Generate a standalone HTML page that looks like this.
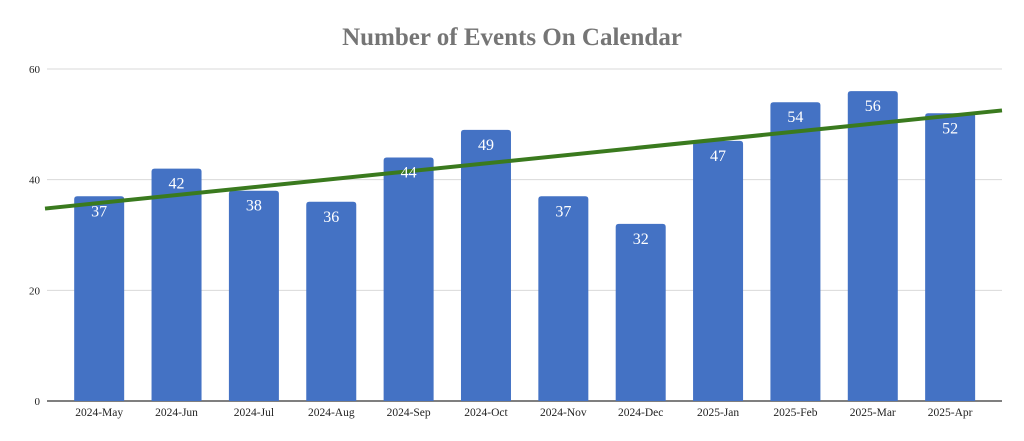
<!DOCTYPE html>
<html><head><meta charset="utf-8"><style>
body{margin:0;background:#fff}
svg{display:block}
</style></head><body>
<svg id="chart" width="1024" height="441" xmlns="http://www.w3.org/2000/svg">
<text x="512" y="45" text-anchor="middle" font-family="Liberation Serif, serif" font-weight="bold" font-size="25" fill="#757575">Number of Events On Calendar</text>
<g id="grid"></g><g id="bars"></g><g id="trend"></g><g id="labels"></g>
</svg>
<script>
const categories=["2024-May","2024-Jun","2024-Jul","2024-Aug","2024-Sep","2024-Oct","2024-Nov","2024-Dec","2025-Jan","2025-Feb","2025-Mar","2025-Apr"];
const values=[37,42,38,36,44,49,37,32,47,54,56,52];
const yTicks=[0,20,40,60];
const NS="http://www.w3.org/2000/svg";
const y0=401,yTop=69,yMax=60,left=60.5,band=77.36,bw=50,gridL=47,gridR=1002;
const Y=v=>y0-(v/yMax)*(y0-yTop);
const X=i=>left+band*(i+0.5);
function mk(t,a,p){const e=document.createElementNS(NS,t);for(const k in a)e.setAttribute(k,a[k]);document.getElementById(p).appendChild(e);return e;}
yTicks.forEach(t=>{
  if(t>0){const l=mk('line',{x1:gridL,x2:gridR,y1:Y(t),y2:Y(t),stroke:'#d9d9d9','stroke-width':1},'grid');
  
  }
  const tx=mk('text',{x:40,y:Y(t)+4,'text-anchor':'end','font-family':'Liberation Serif, serif','font-size':11,fill:'#222'},'grid');
  tx.textContent=t;
  
  
});
values.forEach((v,i)=>{
  const x=X(i)-bw/2,y=Y(v),h=y0-y,r=3;
  const p=mk('path',{d:`M${x},${y0}V${y+r}Q${x},${y} ${x+r},${y}H${x+bw-r}Q${x+bw},${y} ${x+bw},${y+r}V${y0}Z`,fill:'#4472c4'},'bars');
  
  
  const t=mk('text',{x:X(i),y:y+20,'text-anchor':'middle','font-family':'Liberation Serif, serif','font-size':16,fill:'#fff'},'labels');
  t.textContent=v;
  
  
  const c=mk('text',{x:X(i),y:416,'text-anchor':'middle','font-family':'Liberation Serif, serif','font-size':11.5,fill:'#222'},'labels');
  c.textContent=categories[i];
  
  
});
const ax=mk('line',{x1:gridL,x2:gridR,y1:y0,y2:y0,stroke:'#333','stroke-width':1.2},'grid');


// linear regression trendline
const n=values.length,mx=(n-1)/2,my=values.reduce((a,b)=>a+b,0)/n;
let sxy=0,sxx=0;values.forEach((v,i)=>{sxy+=(i-mx)*(v-my);sxx+=(i-mx)*(i-mx);});
const slope=sxy/sxx;
const iAt=px=>(px-X(0))/band;
const f=px=>my+slope*(iAt(px)-mx);
const tl=mk('line',{x1:45,y1:Y(f(45)),x2:1002,y2:Y(f(1002)),stroke:'#3a7a1e','stroke-width':4},'trend');


</script>
</body></html>
